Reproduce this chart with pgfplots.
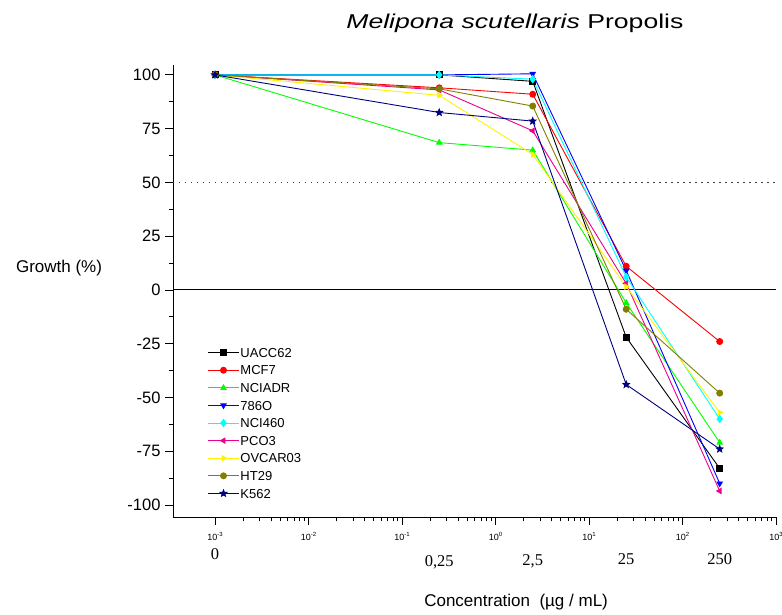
\documentclass[border=0pt]{standalone}
\usepackage{fontspec}
\setmainfont{Liberation Sans}
\newfontfamily\serifnum{Liberation Serif}
\usepackage{pgfplots}
\pgfplotsset{compat=1.18}
\usetikzlibrary{plotmarks}

\definecolor{cgreen}{RGB}{0,255,0}
\definecolor{ccyan}{RGB}{0,255,255}
\definecolor{colive}{RGB}{128,128,0}
\definecolor{cnavy}{RGB}{0,0,128}
\definecolor{cdot}{RGB}{60,60,60}

% filled five point star
\pgfdeclareplotmark{fstar}{%
  \pgfpathmoveto{\pgfpointpolar{90}{1.15\pgfplotmarksize}}%
  \pgfpathlineto{\pgfpointpolar{126}{0.5\pgfplotmarksize}}%
  \pgfpathlineto{\pgfpointpolar{162}{1.15\pgfplotmarksize}}%
  \pgfpathlineto{\pgfpointpolar{198}{0.5\pgfplotmarksize}}%
  \pgfpathlineto{\pgfpointpolar{234}{1.15\pgfplotmarksize}}%
  \pgfpathlineto{\pgfpointpolar{270}{0.5\pgfplotmarksize}}%
  \pgfpathlineto{\pgfpointpolar{306}{1.15\pgfplotmarksize}}%
  \pgfpathlineto{\pgfpointpolar{342}{0.5\pgfplotmarksize}}%
  \pgfpathlineto{\pgfpointpolar{18}{1.15\pgfplotmarksize}}%
  \pgfpathlineto{\pgfpointpolar{54}{0.5\pgfplotmarksize}}%
  \pgfpathclose\pgfusepathqfillstroke}

\newcommand{\tlab}[1]{{\fontsize{9}{9}\selectfont 10\raisebox{3.5pt}{\fontsize{6}{6}\selectfont #1}}}

\begin{document}
\begin{tikzpicture}
\path[use as bounding box] (0,0) rectangle (782pt,615pt);
\begin{axis}[
  at={(173pt,98pt)}, anchor=south west,
  scale only axis, width=603pt, height=452pt,
  xmode=log, xmin=3.55e-4, xmax=1000,
  ymin=-105.6, ymax=104.6,
  clip=false,
  axis x line=bottom, axis y line=left,
  axis line style={-, line width=0.9pt},
  tick align=outside,
  major tick length=8pt, minor tick length=4.5pt,
  every tick/.style={black, line width=0.8pt},
  ytick={-100,-75,-50,-25,0,25,50,75,100},
  yticklabels={-100,-75,-50,-25,0,25,50,75,100},
  minor y tick num=1,
  yticklabel style={font=\fontsize{16.5}{16.5}\selectfont, xshift=-1pt},
  xtick={1e-3,1e-2,1e-1,1,10,100,1000},
  xticklabels={\tlab{-3},\tlab{-2},\tlab{-1},\tlab{0},\tlab{1},\tlab{2},\tlab{3}},
  xticklabel style={yshift=-4pt},
  extra x ticks={1e-3,0.25,2.5,25,250},
  extra x tick labels={\raisebox{7pt}{0},0{,}25,\raisebox{1pt}{2{,}5},\raisebox{2pt}{25},\raisebox{2pt}{250}},
  extra x tick style={major tick length=0pt,
    tick label style={font=\serifnum\fontsize{16.5}{16.5}\selectfont, anchor=base, yshift=-46pt}},
  title={\scalebox{1.33}[1]{{\itshape Melipona scutellaris} Propolis}},
  title style={font=\fontsize{20}{20}\selectfont, at={(rel axis cs:0.567,1.078)}, anchor=center},
  xlabel={Concentration\ \ (µg / mL)},
  xlabel style={font=\fontsize{17}{17}\selectfont, at={(rel axis cs:0.569,-0.188)}, anchor=center},
  ylabel={Growth (\%)},
  ylabel style={font=\fontsize{17}{17}\selectfont, rotate=-90, at={(rel axis cs:-0.189,0.551)}, anchor=center},
  legend style={at={(rel axis cs:0.052,0.381)}, anchor=north west, draw=none, fill=none,
    font=\fontsize{13}{13}\selectfont, row sep=6.3pt,
    nodes={text height=9.3pt, text depth=0pt, inner sep=1pt}},
  legend cell align=left,
  legend image code/.code={\draw[mark repeat=2,mark phase=2] plot coordinates {(0pt,0pt) (15.5pt,0pt) (31pt,0pt)};},
  every axis plot/.append style={line width=0.9pt, mark size=3pt},
]
% reference lines
\addplot[forget plot, black, line width=1.1pt, mark=none] coordinates {(3.55e-4,0) (1000,0)};
\addplot[forget plot, cdot, line width=1pt, dash pattern=on 1.5pt off 4.5pt, mark=none] coordinates {(3.55e-4,50) (1000,50)};

\addplot[black, mark=square*] coordinates {(1e-3,100) (0.25,100) (2.5,97) (25,-22) (250,-83)};
\addlegendentry{UACC62}
\addplot[red, mark=*] coordinates {(1e-3,100) (0.25,94) (2.5,91) (25,11) (250,-24)};
\addlegendentry{MCF7}
\addplot[cgreen, mark=triangle*] coordinates {(1e-3,100) (0.25,68.5) (2.5,65) (25,-6) (250,-71)};
\addlegendentry{NCIADR}
\addplot[blue, mark=triangle*, mark options={rotate=180}] coordinates {(1e-3,100) (0.25,100) (2.5,100.5) (25,9) (250,-90)};
\addlegendentry{786O}
\addplot[ccyan, mark=diamond*, mark options={scale=1.2}] coordinates {(1e-3,100) (0.25,100) (2.5,98) (25,6) (250,-60)};
\addlegendentry{NCI460}
\addplot[magenta, mark=triangle*, mark options={rotate=90}] coordinates {(1e-3,100) (0.25,93) (2.5,74) (25,3) (250,-93.5)};
\addlegendentry{PCO3}
\addplot[yellow, mark=triangle*, mark options={rotate=-90}] coordinates {(1e-3,100) (0.25,90.5) (2.5,63) (25,1.5) (250,-57)};
\addlegendentry{OVCAR03}
\addplot[colive, mark=*] coordinates {(1e-3,100) (0.25,93.5) (2.5,85.5) (25,-9) (250,-48)};
\addlegendentry{HT29}
\addplot[cnavy, mark=fstar] coordinates {(1e-3,100) (0.25,82.5) (2.5,78.5) (25,-44) (250,-74)};
\addlegendentry{K562}
\end{axis}
\end{tikzpicture}
\end{document}
